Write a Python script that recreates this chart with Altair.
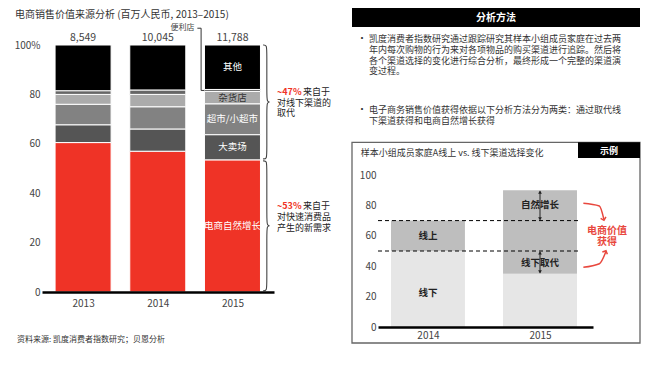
import altair as alt
import pandas as pd

FONT = "Noto Sans CJK SC"
RED = "#ef3326"
RED_ANN = "#e8473d"

# ---------------- data: left chart ----------------
years = [2013, 2014, 2015]
total_labels = ["8,549", "10,045", "11,788"]
categories = ["电商自然增长", "大卖场", "超市/小超市", "杂货店", "便利店", "其他"]
share_ecommerce = [60.5, 57.0, 53.5]
share_hyper = [7.2, 9.0, 10.2]
share_super = [8.3, 9.0, 12.5]
share_grocery = [4.0, 5.0, 5.0]
share_convenience = [1.5, 1.8, 0.8]
share_other = [18.5, 18.2, 18.0]
y_ticks = [0, 20, 40, 60, 80, 100]
note_top_pct = "~47%"
note_top_lines = ["来自于", "对线下渠道的", "取代"]
note_bot_pct = "~53%"
note_bot_lines = ["来自于", "对快速消费品", "产生的新需求"]
conv_label = "便利店"

# ---------------- data: example chart ----------------
ex_years = [2014, 2015]
ex_offline = [50, 35]
ex_online = [20, 55]
ex_parts = ["线下", "线上"]
ex_ticks = [0, 20, 40, 60, 80, 100]
ex_dashes = [70, 50]
ex_text_2014 = ["线上", "线下"]
ex_text_2015 = ["自然增长", "线下取代"]
red_label = ["电商价值", "获得"]

# ---------------- text content ----------------
title_text = "电商销售价值来源分析 (百万人民币, 2013–2015)"
source_text = "资料来源: 凯度消费者指数研究；贝恩分析"
header_text = "分析方法"
bullet1 = ["凯度消费者指数研究通过跟踪研究其样本小组成员家庭在过去两",
           "年内每次购物的行为来对各项物品的购买渠道进行追踪。然后将",
           "各个渠道选择的变化进行综合分析，最终形成一个完整的渠道演",
           "变过程。"]
bullet2 = ["电子商务销售价值获得依据以下分析方法分为两类：通过取代线",
           "下渠道获得和电商自然增长获得"]
box_title = "样本小组成员家庭A线上 vs. 线下渠道选择变化"
box_tag = "示例"

# ---------------- styles / layout ----------------
seg_colors = [RED, "#555555", "#828282", "#ababab", "#666666", "#000000"]
BAR_HALF = 0.375
EX_HALF = 0.33

def lx():
    return alt.Scale(domain=[2012.45, 2015.556], range=[34, 266], nice=False, zero=False)
def ly():
    return alt.Scale(domain=[0, 100], range=[284, 37], nice=False, zero=False)
def ix():
    return alt.Scale(domain=[2013.554, 2015.473], range=[370, 585], nice=False, zero=False)
def iy():
    return alt.Scale(domain=[0, 100], range=[319, 167], nice=False, zero=False)

share_lists = [share_ecommerce, share_hyper, share_super, share_grocery,
               share_convenience, share_other]
rows = []
for i, yr in enumerate(years):
    base = 0.0
    for cat, vals in zip(categories, share_lists):
        v = vals[i]
        rows.append({"year": yr, "cat": cat, "y0": base, "y1": base + v,
                     "ymid": base + v / 2, "x0": yr - BAR_HALF, "x1": yr + BAR_HALF})
        base += v
seg_df = pd.DataFrame(rows)

X_AX = alt.Axis(orient="bottom", values=years, format="d", title=None, ticks=False,
                grid=False, domainColor="black", domainWidth=2.5, labelFontSize=10,
                labelColor="#444", labelPadding=6, offset=-79, labelFont=FONT, zindex=1)
Y_AX = alt.Axis(orient="left", values=y_ticks, title=None, ticks=False, grid=False,
                domain=False, labelFontSize=10, labelColor="#444", labelPadding=2,
                offset=-34, labelFont=FONT, zindex=1,
                labelExpr="datum.value == 100 ? '100%' : datum.label")

def LX(f):
    return alt.X(f, scale=lx(), axis=None)
def LY(f):
    return alt.Y(f, scale=ly(), axis=None)
def IX(f):
    return alt.X(f, scale=ix(), axis=None)
def IY(f):
    return alt.Y(f, scale=iy(), axis=None)

layers = []

bars = alt.Chart(seg_df).mark_bar(stroke="white", strokeWidth=1).encode(
    x=alt.X("x0:Q", scale=lx(), axis=X_AX), x2="x1:Q",
    y=alt.Y("y0:Q", scale=ly(), axis=Y_AX), y2="y1:Q",
    color=alt.Color("cat:N", scale=alt.Scale(domain=categories, range=seg_colors), legend=None),
)
layers.append(bars)

tot_df = pd.DataFrame({"year": years, "label": total_labels, "top": [100] * len(years)})
layers.append(alt.Chart(tot_df).mark_text(dy=-7, fontSize=10.5, color="#444", font=FONT).encode(
    x=LX("year:Q"), y=LY("top:Q"), text="label:N"))

last = seg_df[(seg_df.year == years[-1]) & (seg_df.cat != "便利店")]
layers.append(alt.Chart(last[last.cat != "杂货店"]).mark_text(fontSize=9.5, color="white", font=FONT).encode(
    x=LX("year:Q"), y=LY("ymid:Q"), text="cat:N"))
layers.append(alt.Chart(last[last.cat == "杂货店"]).mark_text(fontSize=9.5, color="#333", font=FONT).encode(
    x=LX("year:Q"), y=LY("ymid:Q"), text="cat:N"))

CONV_TOP = 106.8
conv_y = float(seg_df[(seg_df.year == 2015) & (seg_df.cat == "便利店")].ymid.iloc[0])
layers.append(alt.Chart(pd.DataFrame({"t": [conv_label], "x": [2014.33], "y": [CONV_TOP]})).mark_text(
    fontSize=8, color="#444", font=FONT).encode(x=LX("x:Q"), y=LY("y:Q"), text="t:N"))
lead_df = pd.DataFrame({"i": [0, 1, 2, 3],
                        "x": [2014.53, 2014.58, 2014.58, 2015 - BAR_HALF],
                        "y": [CONV_TOP, CONV_TOP, conv_y, conv_y]})
layers.append(alt.Chart(lead_df).mark_line(color="#333", strokeWidth=1).encode(
    x=LX("x:Q"), y=LY("y:Q"), order="i:Q"))

def brace_pts(bid, ytop, ybot, x0=2015.41, x1=2015.46, x2=2015.515, d=3.0):
    ym = (ytop + ybot) / 2
    pts = [(x0, ytop), (x1, ytop), (x1, ytop - d), (x1, ym + d), (x1, ym), (x2, ym),
           (x1, ym), (x1, ym - d), (x1, ybot + d), (x1, ybot), (x0, ybot)]
    return [{"id": bid, "i": k, "x": p[0], "y": p[1]} for k, p in enumerate(pts)]

split = share_ecommerce[-1]
brace_df = pd.DataFrame(brace_pts("a", 100, split + 0.4) + brace_pts("b", split - 0.4, 0.5))
layers.append(alt.Chart(brace_df).mark_line(color="#444", strokeWidth=1.1, interpolate="basis").encode(
    x=LX("x:Q"), y=LY("y:Q"), detail="id:N", order="i:Q"))

NOTE_X = 2015.596
note_pct_df = pd.DataFrame({"t": [note_top_pct, note_bot_pct], "x": [NOTE_X] * 2, "y": [81.1, 34.9]})
layers.append(alt.Chart(note_pct_df).mark_text(align="left", fontSize=9, color=RED, fontWeight="bold", font=FONT).encode(
    x=LX("x:Q"), y=LY("y:Q"), text="t:N"))
note_rows = []
for lines, y0 in [(note_top_lines, 81.1), (note_bot_lines, 34.9)]:
    for k, t in enumerate(lines):
        note_rows.append({"t": t, "x": NOTE_X, "y": y0 - k * 4.4, "first": k == 0})
note_df = pd.DataFrame(note_rows)
layers.append(alt.Chart(note_df[note_df["first"]]).mark_text(align="left", dx=26, fontSize=9, color="#222", font=FONT).encode(
    x=LX("x:Q"), y=LY("y:Q"), text="t:N"))
layers.append(alt.Chart(note_df[~note_df["first"]]).mark_text(align="left", fontSize=9, color="#222", font=FONT).encode(
    x=LX("x:Q"), y=LY("y:Q"), text="t:N"))

# ---------------- example chart ----------------
ex_rows = []
for i, yr in enumerate(ex_years):
    ex_rows.append({"year": yr, "part": ex_parts[0], "y0": 0, "y1": ex_offline[i],
                    "x0": yr - EX_HALF, "x1": yr + EX_HALF})
    ex_rows.append({"year": yr, "part": ex_parts[1], "y0": ex_offline[i],
                    "y1": ex_offline[i] + ex_online[i], "x0": yr - EX_HALF, "x1": yr + EX_HALF})
ex_df = pd.DataFrame(ex_rows)

IX_AX = alt.Axis(orient="bottom", values=ex_years, format="d", title=None, ticks=False,
                 grid=False, domainColor="black", domainWidth=2.5, labelFontSize=10,
                 labelColor="#444", labelPadding=3, offset=-44, labelFont=FONT, zindex=1)
IY_AX = alt.Axis(orient="left", values=ex_ticks, title=None, ticks=False, grid=False,
                 domain=False, labelFontSize=10, labelColor="#444", labelPadding=2,
                 offset=-370, labelFont=FONT, zindex=1)

layers.append(alt.Chart(ex_df).mark_bar().encode(
    x=alt.X("x0:Q", scale=ix(), axis=IX_AX), x2="x1:Q",
    y=alt.Y("y0:Q", scale=iy(), axis=IY_AX), y2="y1:Q",
    color=alt.Color("part:N", scale=alt.Scale(domain=ex_parts, range=["#e6e6e6", "#bebebe"]), legend=None),
))
dash_df = pd.DataFrame({"y": ex_dashes, "x0": [2013.554] * 2, "x1": [2015.339] * 2})
layers.append(alt.Chart(dash_df).mark_rule(color="black", strokeWidth=1, strokeDash=[4, 3]).encode(
    x=IX("x0:Q"), x2="x1:Q", y=IY("y:Q")))

top15 = ex_offline[1] + ex_online[1]
arr_df = pd.DataFrame({"x": [2015, 2015], "y0": [ex_dashes[0] + 0.8, ex_offline[1] + 0.8],
                       "y1": [top15 - 0.8, ex_dashes[1] - 0.8]})
layers.append(alt.Chart(arr_df).mark_rule(color="#222", strokeWidth=1).encode(
    x=IX("x:Q"), y=IY("y0:Q"), y2="y1:Q"))
head_df = pd.DataFrame({"x": [2015] * 4,
                        "y": [top15 - 1.2, ex_dashes[0] + 1.2, ex_dashes[1] - 1.2, ex_offline[1] + 1.2],
                        "shape": ["triangle-up", "triangle-down", "triangle-up", "triangle-down"]})
layers.append(alt.Chart(head_df).mark_point(filled=True, color="#222", size=14, opacity=1).encode(
    x=IX("x:Q"), y=IY("y:Q"), shape=alt.Shape("shape:N", scale=None)))

itext_df = pd.DataFrame({"t": ex_text_2014 + ex_text_2015,
                         "x": [2014, 2014, 2015, 2015], "y": [60, 22.4, 80, 42.1]})
layers.append(alt.Chart(itext_df).mark_text(fontSize=9.5, fontWeight="bold", color="#222", font=FONT).encode(
    x=IX("x:Q"), y=IY("y:Q"), text="t:N"))

rarr_df = pd.DataFrame({"id": ["a"] * 3 + ["b"] * 3, "i": [0, 1, 2] * 2,
                        "x": [2015.387, 2015.53, 2015.571, 2015.387, 2015.53, 2015.589],
                        "y": [81.4, 79.6, 70.6, 39.3, 41.6, 49.8]})
layers.append(alt.Chart(rarr_df).mark_line(color=RED_ANN, strokeWidth=1.5, interpolate="monotone").encode(
    x=IX("x:Q"), y=IY("y:Q"), detail="id:N", order="i:Q"))
rhead_df = pd.DataFrame({"x": [2015.571, 2015.589], "y": [70.2, 50.2],
                         "shape": ["M-1,-1L0,0L1,-1", "M-1,1L0,0L1,1"], "ang": [345, 25]})
layers.append(alt.Chart(rhead_df).mark_point(filled=False, color=RED_ANN, strokeWidth=1.5, size=30, opacity=1).encode(
    x=IX("x:Q"), y=IY("y:Q"),
    shape=alt.Shape("shape:N", scale=None), angle=alt.Angle("ang:Q", scale=None)))
rtext_df = pd.DataFrame({"t": red_label, "x": [2015.598] * 2, "y": [63.4, 56.1]})
layers.append(alt.Chart(rtext_df).mark_text(fontSize=10, fontWeight="bold", color=RED_ANN, font=FONT).encode(
    x=IX("x:Q"), y=IY("y:Q"), text="t:N"))

# ---------------- free-form decorations (pixel positions) ----------------
def pxtext(rows_, **kw):
    return alt.Chart(pd.DataFrame(rows_)).mark_text(font=FONT, **kw).encode(
        x=alt.X("px:Q", scale=None, axis=None), y=alt.Y("py:Q", scale=None, axis=None), text="t:N")

def pxrect(rows_, **kw):
    return alt.Chart(pd.DataFrame(rows_)).mark_rect(**kw).encode(
        x=alt.X("px:Q", scale=None, axis=None), x2="px2:Q",
        y=alt.Y("py:Q", scale=None, axis=None), y2="py2:Q")

LINE_H = 10.7
b1_rows = [{"t": t, "px": 361, "py": 31.3 + k * LINE_H} for k, t in enumerate(bullet1)]
b2_rows = [{"t": t, "px": 361, "py": 102.0 + k * LINE_H} for k, t in enumerate(bullet2)]

layers += [
    pxrect([{"px": 344, "px2": 632, "py": 0, "py2": 19}], color="black"),
    pxrect([{"px": 344, "px2": 632, "py": 134.3, "py2": 335}], fillOpacity=0, stroke="#666", strokeWidth=1.3),
    pxrect([{"px": 570, "px2": 632, "py": 134.3, "py2": 150}], color="black"),
    pxtext([{"t": header_text, "px": 488, "py": 10}], fontSize=10, fontWeight="bold", color="white"),
    pxtext([{"t": box_tag, "px": 601, "py": 142.5}], fontSize=9, fontWeight="bold", color="white"),
    pxtext([{"t": "•", "px": 354, "py": 31.3}, {"t": "•", "px": 354, "py": 102.0}], fontSize=10, color="#333"),
    pxtext(b1_rows + b2_rows, align="left", fontSize=9, color="#333"),
    pxtext([{"t": box_title, "px": 352.7, "py": 144.7}], align="left", fontSize=9, color="#333"),
    pxtext([{"t": title_text, "px": 7, "py": 7}], align="left", fontSize=10, color="#333"),
    pxtext([{"t": source_text, "px": 9, "py": 332}], align="left", fontSize=8, color="#333"),
]

chart = alt.layer(*layers).resolve_scale(
    x="independent", y="independent", color="independent", shape="independent", angle="independent"
).resolve_axis(x="independent", y="independent").properties(
    width=656, height=363, padding=0, autosize=alt.AutoSizeParams(type="none"),
    background="white"
).configure_view(stroke=None).configure_axis(labelFont=FONT)

chart.save("out.html", embed_options={"renderer": "svg", "actions": False})
